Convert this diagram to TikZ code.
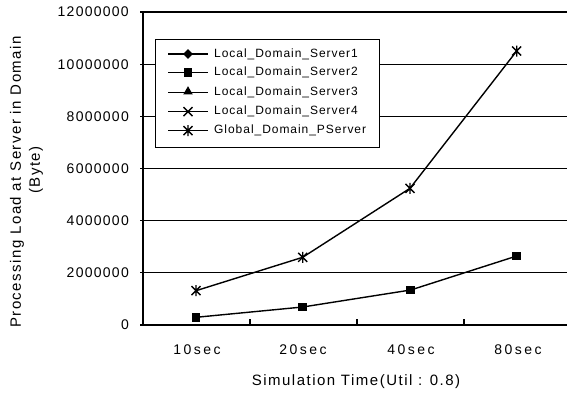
\documentclass[tikz,border=0pt]{standalone}
\usepackage{fontspec}
\setmainfont{Liberation Sans}
\newfontfamily\ticksfont[LetterSpace=9]{Liberation Sans}
\newfontfamily\catfont[LetterSpace=18]{Liberation Sans}
\newfontfamily\titlefont[LetterSpace=10]{Liberation Sans}
\newfontfamily\legfont[LetterSpace=8]{Liberation Sans}
\usetikzlibrary{shapes.geometric}
\tikzset{
  grid line/.style={line width=1.1pt},
  axis line/.style={line width=1.4pt},
  series/.style={line width=1.4pt},
  sqmark/.style={rectangle, fill=black, minimum size=8.5pt, inner sep=0pt},
  dmmark/.style={diamond, fill=black, minimum size=10pt, inner sep=0pt},
  trmark/.style={regular polygon, regular polygon sides=3, fill=black, minimum size=11pt, inner sep=0pt},
  ylab/.style={anchor=east, font=\ticksfont\fontsize{14}{16}\selectfont, inner sep=0pt},
  xlab/.style={font=\catfont\fontsize{14}{16}\selectfont, inner sep=0pt},
  legtext/.style={anchor=west, font=\legfont\fontsize{12}{14}\selectfont, inner sep=0pt},
  xcross/.pic={\draw[line width=1.4pt] (-4.5,-4.5) -- (4.5,4.5) (-4.5,4.5) -- (4.5,-4.5);},
  astmark/.pic={\draw[line width=1.4pt] (-4.5,-4.5) -- (4.5,4.5) (-4.5,4.5) -- (4.5,-4.5) (0,-5.5) -- (0,5.5);}
}
\begin{document}
\begin{tikzpicture}[x=1pt, y=-1pt]
\useasboundingbox (0,0) rectangle (567,399);

% horizontal grid lines and tick labels
\foreach \yy/\lab in {325/0, 272.8/2000000, 220.7/4000000, 168.5/6000000, 116.3/8000000, 64.2/10000000, 12/12000000} {
  \draw[grid line] (140,\yy) -- (567,\yy);
  \node[ylab] at (129,\yy) {\lab};
}

% axes
\coordinate (origin) at (143,325);
\coordinate (ytop) at (143,12);
\coordinate (xend) at (567,325);
\draw[axis line] (ytop) -- (origin) -- (xend);

% category ticks
\foreach \xx in {250,357,464} {
  \draw[line width=1.1pt] (\xx,325) -- (\xx,319);
}

% category labels
\node[xlab] (c1) at (197,350) {10sec};
\node[xlab] (c2) at (303,350) {20sec};
\node[xlab] (c3) at (411,350) {40sec};
\node[xlab] (c4) at (518,350) {80sec};

% axis titles
\node[font=\titlefont\fontsize{15}{17}\selectfont, inner sep=0pt] (xtitle) at (356,382) {Simulation Time(Util : 0.8)};
\node[font=\titlefont\fontsize{15}{17}\selectfont, rotate=90, inner sep=0pt] (ytitle1) at (17,182) {Processing Load at Server in Domain};
\node[font=\titlefont\fontsize{15}{17}\selectfont, rotate=90, inner sep=0pt] (ytitle2) at (36,170) {(Byte)};

% Local_Domain_Server2 (servers 1, 3 and 4 share its values)
\coordinate (s1) at (196,317.3);
\coordinate (s2) at (302.7,307);
\coordinate (s3) at (410.7,290);
\coordinate (s4) at (516.7,256);
\draw[series] (s1) -- (s2) -- (s3) -- (s4);
\foreach \p in {s1,s2,s3,s4} \node[sqmark] at (\p) {};

% Global_Domain_PServer
\coordinate (g1) at (196,290.7);
\coordinate (g2) at (302.7,257.3);
\coordinate (g3) at (410,188.3);
\coordinate (g4) at (516.7,51);
\draw[series] (g1) -- (g2) -- (g3) -- (g4);
\foreach \p in {g1,g2,g3,g4} \pic at (\p) {astmark};

% legend
\node[draw, fill=white, line width=1pt, minimum width=224pt, minimum height=107.4pt, inner sep=0pt, anchor=north west] (legend) at (155,39.3) {};
\foreach \i/\yy/\lab in {1/54/Local\_Domain\_Server1, 2/72.7/Local\_Domain\_Server2, 3/92.7/Local\_Domain\_Server3, 4/111.7/Local\_Domain\_Server4, 5/130.7/Global\_Domain\_PServer} {
  \coordinate (la\i) at (168,\yy);
  \coordinate (lb\i) at (208,\yy);
  \draw[series] (la\i) -- (lb\i);
  \node[legtext] (lt\i) at (214,\yy) {\lab};
}
\node[dmmark] at (188,54) {};
\node[sqmark] at (188,72.7) {};
\node[trmark] at (188,91.7) {};
\pic at (188,111.7) {xcross};
\pic at (188,130.7) {astmark};
\end{tikzpicture}
\end{document}
